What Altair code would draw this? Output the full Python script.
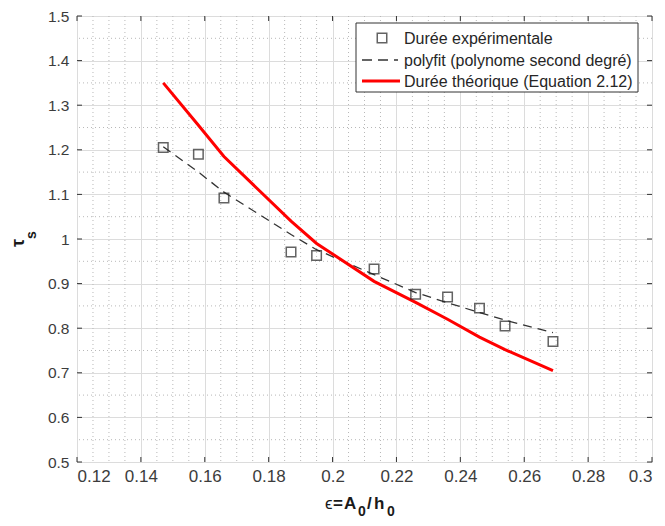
import altair as alt
import pandas as pd

# ---- data ----
eps = [0.147, 0.158, 0.166, 0.187, 0.195, 0.213, 0.226, 0.236, 0.246, 0.254, 0.269]
tau_exp = [1.205, 1.19, 1.092, 0.971, 0.963, 0.933, 0.876, 0.870, 0.845, 0.805, 0.770]
tau_fit = [1.207, 1.15, 1.105, 1.01, 0.976, 0.92, 0.88, 0.857, 0.835, 0.818, 0.790]
tau_theo = [1.35, 1.255, 1.185, 1.04, 0.99, 0.905, 0.858, 0.82, 0.78, 0.752, 0.705]

x_ticks = [0.12, 0.14, 0.16, 0.18, 0.2, 0.22, 0.24, 0.26, 0.28, 0.3]
y_ticks = [0.5, 0.6, 0.7, 0.8, 0.9, 1.0, 1.1, 1.2, 1.3, 1.4, 1.5]
x_minor = [0.125, 0.13, 0.135, 0.145, 0.15, 0.155, 0.165, 0.17, 0.175,
           0.185, 0.19, 0.195, 0.205, 0.21, 0.215, 0.225, 0.23, 0.235,
           0.245, 0.25, 0.255, 0.265, 0.27, 0.275, 0.285, 0.29, 0.295]
y_minor = [0.55, 0.65, 0.75, 0.85, 0.95, 1.05, 1.15, 1.25, 1.35, 1.45]

legend_labels = ["Durée expérimentale", "polyfit (polynome second degré)",
                 "Durée théorique (Equation 2.12)"]

# axis titles split into pieces (main text / subscripts)
x_title_parts = ["ϵ", "=", "A", "0", "/", "h", "0"]
y_title_parts = ["τ", "s"]

W, H = 575, 446
FONT = "Liberation Sans"

df = pd.DataFrame({"eps": eps, "exp": tau_exp, "fit": tau_fit, "theo": tau_theo})
xs = alt.Scale(domain=[0.12, 0.3], nice=False, zero=False)
ys = alt.Scale(domain=[0.5, 1.5], nice=False, zero=False)

x_axis = alt.Axis(values=x_ticks, format="~g", title=None,
                  labelFontSize=17, labelColor="#3c3c3c",
                  labelPadding=6, ticks=False, domain=False,
                  grid=True, gridColor="#dcdcdc", gridWidth=1)
y_axis = alt.Axis(values=y_ticks, format="~g", title=None,
                  labelFontSize=15.5, labelColor="#3c3c3c",
                  labelPadding=8, ticks=False, domain=False,
                  grid=True, gridColor="#dcdcdc", gridWidth=1)

base = alt.Chart(df)

# minor dotted grid
xm = alt.Chart(pd.DataFrame({"v": x_minor})).mark_rule(
    color="#b8b8b8", strokeDash=[1, 3], strokeWidth=1
).encode(x=alt.X("v:Q", scale=xs, axis=x_axis))
ym = alt.Chart(pd.DataFrame({"v": y_minor})).mark_rule(
    color="#b8b8b8", strokeDash=[1, 3], strokeWidth=1
).encode(y=alt.Y("v:Q", scale=ys, axis=y_axis))

# inward ticks on all four sides
xt = pd.DataFrame({"v": x_ticks})
yt = pd.DataFrame({"v": y_ticks})
tick_b = alt.Chart(xt).mark_rule(color="#333").encode(
    x=alt.X("v:Q", scale=xs), y=alt.value(H), y2=alt.value(H - 5))
tick_t = alt.Chart(xt).mark_rule(color="#333").encode(
    x=alt.X("v:Q", scale=xs), y=alt.value(0), y2=alt.value(5))
tick_l = alt.Chart(yt).mark_rule(color="#333").encode(
    y=alt.Y("v:Q", scale=ys), x=alt.value(0), x2=alt.value(5))
tick_r = alt.Chart(yt).mark_rule(color="#333").encode(
    y=alt.Y("v:Q", scale=ys), x=alt.value(W), x2=alt.value(W - 5))

fit_line = base.mark_line(color="#333333", strokeWidth=1.3, strokeDash=[9, 6]).encode(
    x=alt.X("eps:Q", scale=xs), y=alt.Y("fit:Q", scale=ys))
theo_line = base.mark_line(color="#ff0000", strokeWidth=3).encode(
    x=alt.X("eps:Q", scale=xs), y=alt.Y("theo:Q", scale=ys))
pts = base.mark_square(filled=False, color="#222222", strokeWidth=1.5, size=90).encode(
    x=alt.X("eps:Q", scale=xs), y=alt.Y("exp:Q", scale=ys))

one = pd.DataFrame({"a": [0]})

# legend (drawn manually)
LX0, LX1, LY0, LY1 = 279, 561, 7, 76
rows = [22, 44, 65]
leg_box = alt.Chart(one).mark_rect(
    fill="white", stroke="#333", strokeWidth=1
).encode(x=alt.value(LX0), x2=alt.value(LX1), y=alt.value(LY0), y2=alt.value(LY1))
leg_sq = alt.Chart(one).mark_square(
    filled=False, color="#222", strokeWidth=1.5, size=90
).encode(x=alt.value(305), y=alt.value(rows[0]))
leg_dash = alt.Chart(one).mark_rule(
    color="#333", strokeWidth=1.3, strokeDash=[10, 6]
).encode(x=alt.value(285), x2=alt.value(321), y=alt.value(rows[1]))
leg_red = alt.Chart(one).mark_rule(
    color="#ff0000", strokeWidth=3
).encode(x=alt.value(285), x2=alt.value(323), y=alt.value(rows[2]))
leg_text = [
    alt.Chart(pd.DataFrame({"t": [lab]})).mark_text(
        align="left", baseline="middle", fontSize=16, font=FONT, color="#262626"
    ).encode(text="t:N", x=alt.value(327), y=alt.value(r + 1))
    for lab, r in zip(legend_labels, rows)
]

# x axis title: ϵ=A0/h0 with subscripts
x_pos = [248, 256, 267, 281, 290, 297, 310]
x_base = [493, 493, 493, 500, 493, 493, 500]
x_size = [17, 17, 17, 14, 17, 17, 14]
x_weight = ["normal", "bold", "bold", "bold", "bold", "bold", "bold"]
x_title = [
    alt.Chart(pd.DataFrame({"t": [t]})).mark_text(
        align="left", baseline="alphabetic", fontSize=s, fontWeight=w,
        font=FONT, color="#1a1a1a"
    ).encode(text="t:N", x=alt.value(px), y=alt.value(py))
    for t, px, py, s, w in zip(x_title_parts, x_pos, x_base, x_size, x_weight)
]

# y axis title: τs (rotated, s subscript)
y_pos = [(-58, 227), (-45, 219)]
y_size = [18, 14]
y_title = [
    alt.Chart(pd.DataFrame({"t": [t]})).mark_text(
        align="center", baseline="middle", angle=270, fontSize=s,
        fontWeight="bold", font=FONT, color="#1a1a1a"
    ).encode(text="t:N", x=alt.value(p[0]), y=alt.value(p[1]))
    for t, p, s in zip(y_title_parts, y_pos, y_size)
]

chart = alt.layer(
    xm, ym, tick_b, tick_t, tick_l, tick_r, fit_line, theo_line, pts,
    leg_box, leg_sq, leg_dash, leg_red, *leg_text, *x_title, *y_title
).properties(
    width=W, height=H,
    autosize=alt.AutoSizeParams(type="none"),
    padding={"left": 69, "top": 8, "right": 5, "bottom": 56},
).configure_view(
    stroke="#222", strokeWidth=1.2
).configure_axis(
    labelFont=FONT
).configure(background="white")

chart.save("out.html", embed_options={"renderer": "svg", "actions": False})
